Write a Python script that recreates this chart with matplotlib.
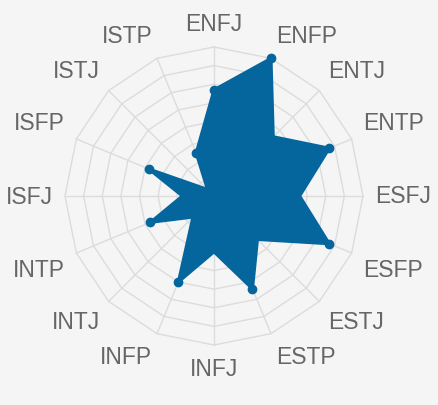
import numpy as np
import matplotlib
matplotlib.use("Agg")
import matplotlib.pyplot as plt

# --- data (0-8 scale) ---
types = ["ENFJ", "ENFP", "ENTJ", "ENTP", "ESFJ", "ESFP", "ESTJ", "ESTP",
         "INFJ", "INFP", "INTJ", "INTP", "ISFJ", "ISFP", "ISTJ", "ISTP"]
scores = [5.7, 8.0, 4.5, 6.7, 4.6, 6.7, 3.3, 5.4,
          3.0, 5.0, 1.6, 3.7, 1.7, 3.8, 0.5, 2.5]
ring_levels = [1, 2, 3, 4, 5, 6, 7, 8]

bg = "#f5f5f5"
blue = "#05669e"
grid_col = "#dcdcdc"

n = len(types)
theta = np.arange(n) * 2 * np.pi / n
theta_closed = np.append(theta, theta[0])
vals_closed = np.append(scores, scores[0])

# only the outward corners show a point dot (the inward ones sink in the fill)
r = np.array(scores)
xs, ys = r * np.sin(theta), r * np.cos(theta)
convex = []
for i in range(n):
    ax_, ay_ = xs[i] - xs[i - 1], ys[i] - ys[i - 1]
    bx_, by_ = xs[(i + 1) % n] - xs[i], ys[(i + 1) % n] - ys[i]
    convex.append(ax_ * by_ - ay_ * bx_ < 0)
convex = np.array(convex)

fig = plt.figure(figsize=(4.38, 4.06), dpi=100, facecolor=bg)
ax = fig.add_axes([65 / 438, 60 / 406, 298 / 438, 298 / 406], projection="polar")
ax.set_facecolor(bg)
ax.set_theta_zero_location("N")
ax.set_theta_direction(-1)
ax.set_ylim(0, 8)
ax.grid(False)
ax.spines["polar"].set_visible(False)
ax.set_xticks([])
ax.set_yticks([])

# polygon grid
for lvl in ring_levels:
    ax.plot(theta_closed, [lvl] * (n + 1), color=grid_col, lw=1, zorder=1, clip_on=False)
for t in theta:
    ax.plot([t, t], [0, ring_levels[-1]], color=grid_col, lw=1, zorder=1, clip_on=False)

# data area
ax.fill(theta_closed, vals_closed, facecolor=blue, edgecolor=blue, lw=2.2,
        joinstyle="miter", zorder=3, clip_on=False)
ax.plot(theta[convex], r[convex], "o", color=blue, ms=6, zorder=4, clip_on=False)

# point labels
lab_r = 8.65
for t, name in zip(theta, types):
    deg = np.degrees(t)
    if np.isclose(deg, 0) or np.isclose(deg, 180):
        ha = "center"
    elif deg < 180:
        ha = "left"
    else:
        ha = "right"
    if np.isclose(deg, 90) or np.isclose(deg, 270):
        va = "center"
    elif deg < 90 or deg > 270:
        va = "bottom"
    else:
        va = "top"
    ax.text(t, lab_r, name, ha=ha, va=va, fontsize=16.5, color="#666666",
            family="Liberation Sans", clip_on=False)

fig.savefig("out.png", dpi=100, facecolor=bg)
